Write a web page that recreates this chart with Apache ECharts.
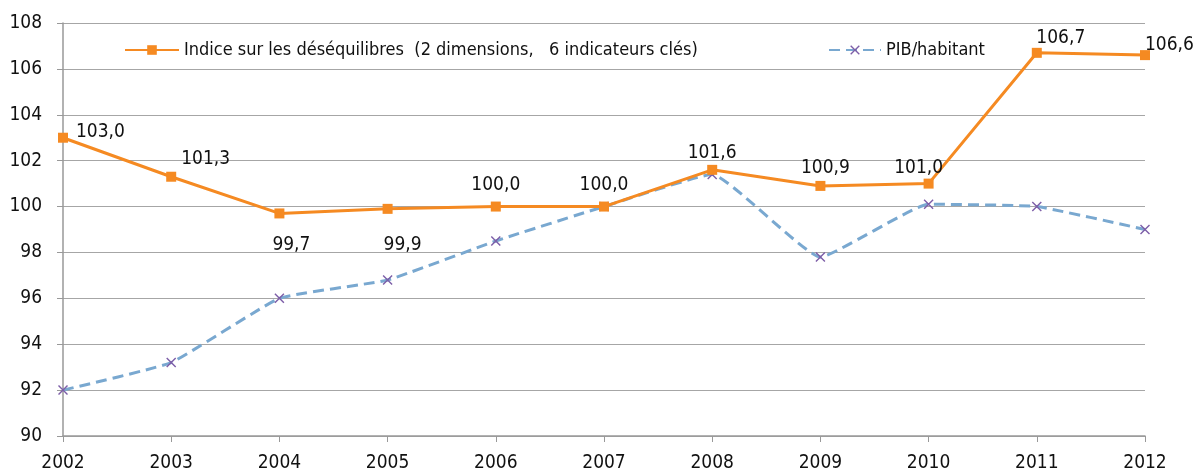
<!DOCTYPE html>
<html>
<head>
<meta charset="utf-8">
<script src="https://cdn.jsdelivr.net/npm/echarts@6/dist/echarts.min.js"></script>
<style>
  html, body { margin: 0; padding: 0; background: #fff; }
  #main { width: 1195px; height: 474px; }
</style>
</head>
<body>
<div id="main"></div>
<script>
var years = ['2002', '2003', '2004', '2005', '2006', '2007', '2008', '2009', '2010', '2011', '2012'];
var indice = [103.0, 101.3, 99.7, 99.9, 100.0, 100.0, 101.6, 100.9, 101.0, 106.7, 106.6];
var pib = [92.0, 93.2, 96.0, 96.8, 98.5, 100.0, 101.4, 97.8, 100.1, 100.0, 99.0];

var fontName = "'DejaVu Sans Condensed', 'DejaVu Sans', sans-serif";

// ou placer chaque etiquette autour du point orange
var labelPos = [
    { position: 'right', offset: [3, -6] },
    { position: 'right', offset: [0, -18] },
    { position: 'bottom', offset: [12, 12] },
    { position: 'bottom', offset: [15, 17] },
    { position: 'top', offset: [0, -2] },
    { position: 'top', offset: [0, -2] },
    { position: 'top', offset: [0, 3] },
    { position: 'top', offset: [5, 2] },
    { position: 'top', offset: [-10, 4] },
    { position: 'top', offset: [24, 5] },
    { position: 'right', offset: [-10, -10] }
];

var indiceData = [];
for (var i = 0; i < indice.length; i++) {
    indiceData.push({ value: indice[i], label: labelPos[i] });
}

var xMark = 'path://M0,1L1,0L10,9L9,10Z M9,0L10,1L1,10L0,9Z';

var chartDom = document.getElementById('main');
var myChart = echarts.init(chartDom);
var option;

option = {
    animation: false,
    textStyle: { fontFamily: fontName },
    grid: { left: 63, right: 50, top: 23, bottom: 38 },
    legend: [{
        left: 119,
        top: 36,
        itemWidth: 54,
        itemHeight: 12,
        textStyle: { fontFamily: fontName, fontSize: 18, color: '#111' },
        data: ['Indice sur les déséquilibres  (2 dimensions,   6 indicateurs clés)']
    }, {
        left: 823,
        top: 36,
        itemWidth: 52,
        itemHeight: 12,
        textStyle: { fontFamily: fontName, fontSize: 18, color: '#111' },
        data: ['PIB/habitant']
    }],
    xAxis: {
        type: 'category',
        data: years,
        boundaryGap: false,
        axisLine: { lineStyle: { color: '#999', width: 1.5 } },
        axisTick: { length: 6, lineStyle: { color: '#999' } },
        axisLabel: { fontFamily: fontName, fontSize: 19, color: '#111', margin: 18 }
    },
    yAxis: {
        type: 'value',
        min: 90,
        max: 108,
        interval: 2,
        axisLine: { show: true, lineStyle: { color: '#999', width: 1.5 } },
        axisTick: { show: true, length: 6, lineStyle: { color: '#999' } },
        axisLabel: { fontFamily: fontName, fontSize: 19, color: '#111', margin: 21 },
        splitLine: { lineStyle: { color: '#a6a6a6', width: 1.2 } }
    },
    series: [{
        name: 'PIB/habitant',
        type: 'line',
        data: pib,
        smooth: 0.12,
        symbol: xMark,
        symbolSize: 10,
        lineStyle: { color: '#79a8d0', width: 3, type: [11, 6] },
        itemStyle: { color: '#7d5ea8' },
        z: 2
    }, {
        name: 'Indice sur les déséquilibres  (2 dimensions,   6 indicateurs clés)',
        type: 'line',
        data: indiceData,
        symbol: 'rect',
        symbolSize: 10,
        lineStyle: { color: '#f58a22', width: 3 },
        itemStyle: { color: '#f58a22' },
        label: {
            show: true,
            fontFamily: fontName,
            fontSize: 19,
            color: '#111',
            formatter: function (p) {
                return p.value.toFixed(1).replace('.', ',');
            }
        },
        z: 3
    }]
};

option && myChart.setOption(option);
</script>
</body>
</html>
